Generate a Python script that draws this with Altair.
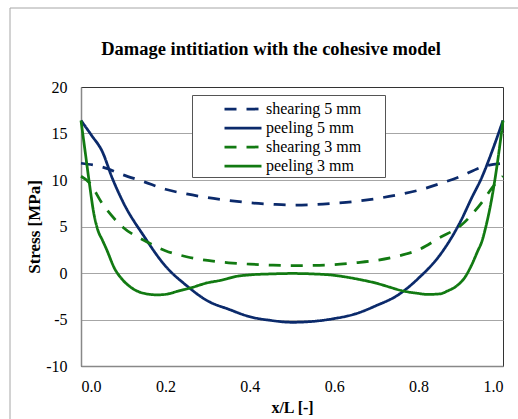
import altair as alt
import pandas as pd

series_order = ["shearing 5 mm", "peeling 5 mm", "shearing 3 mm", "peeling 3 mm"]
series_colors = ["#0b2a6b", "#0b2a6b", "#127a12", "#127a12"]
series_dashes = [[12, 10], [1, 0], [12, 10], [1, 0]]

shear5_x = [0, 0.05, 0.1, 0.15, 0.2, 0.25, 0.3, 0.35, 0.4, 0.45, 0.5, 0.55, 0.6, 0.65, 0.7, 0.75, 0.8, 0.85, 0.9, 0.95, 1.0]
shear5_y = [11.8, 11.4, 10.55, 9.8, 9.0, 8.5, 8.1, 7.8, 7.55, 7.4, 7.3, 7.35, 7.5, 7.7, 8.0, 8.4, 8.9, 9.6, 10.4, 11.4, 11.8]

peel5_x = [0, 0.025, 0.05, 0.075, 0.1, 0.15, 0.2, 0.25, 0.3, 0.35, 0.4, 0.45, 0.5, 0.55, 0.6, 0.65, 0.7, 0.75, 0.8, 0.85, 0.9, 0.925, 0.95, 0.975, 1.0]
peel5_y = [16.4, 14.8, 13.1, 10.1, 7.6, 3.9, 0.75, -1.35, -3.0, -3.9, -4.7, -5.1, -5.3, -5.2, -4.9, -4.4, -3.5, -2.4, -0.55, 1.9, 5.6, 8.0, 10.3, 13.2, 16.4]

shear3_x = [0, 0.02, 0.05, 0.1, 0.15, 0.2, 0.25, 0.3, 0.35, 0.4, 0.45, 0.5, 0.55, 0.6, 0.65, 0.7, 0.75, 0.8, 0.85, 0.9, 0.95, 0.98, 1.0]
shear3_y = [10.4, 9.7, 7.5, 4.9, 3.5, 2.4, 1.75, 1.35, 1.1, 0.95, 0.85, 0.8, 0.82, 0.9, 1.1, 1.35, 1.8, 2.5, 3.8, 5.1, 7.6, 9.5, 10.4]

peel3_x = [0, 0.01, 0.02, 0.03, 0.04, 0.05, 0.06, 0.08, 0.1, 0.12, 0.15, 0.18, 0.2, 0.23, 0.26, 0.3, 0.33, 0.37, 0.4, 0.45, 0.5,
           0.55, 0.6, 0.63, 0.66, 0.7, 0.73, 0.76, 0.8, 0.82, 0.85, 0.87, 0.89, 0.91, 0.925, 0.94, 0.95, 0.96, 0.97, 0.98, 0.99, 1.0]
peel3_y = [16.4, 13.0, 9.6, 6.5, 4.6, 3.6, 2.6, 0.45, -0.8, -1.6, -2.2, -2.35, -2.3, -1.95, -1.6, -1.05, -0.8, -0.35, -0.2, -0.1, -0.05,
           -0.1, -0.25, -0.45, -0.7, -1.1, -1.5, -1.9, -2.2, -2.3, -2.25, -1.9, -1.4, -0.45, 0.8, 2.35, 3.4, 5.1, 7.2, 9.8, 12.9, 16.4]

x_ticks = [0.0, 0.2, 0.4, 0.6, 0.8, 1.0]
y_ticks = [-10, -5, 0, 5, 10, 15, 20]

frames = []
for name, xs, ys in [("shearing 5 mm", shear5_x, shear5_y), ("peeling 5 mm", peel5_x, peel5_y),
                     ("shearing 3 mm", shear3_x, shear3_y), ("peeling 3 mm", peel3_x, peel3_y)]:
    frames.append(pd.DataFrame({"x": xs, "y": ys, "series": name}))
df = pd.concat(frames, ignore_index=True)

FONT = "Liberation Serif"

legend = alt.Legend(
    title="|", titleOrient="right", titlePadding=16, titleFontSize=16, titleColor="transparent",
    orient="none", legendX=111, legendY=8,
    symbolType="M-2,0H2", symbolSize=342, symbolStrokeWidth=2.75,
    labelFont=FONT, labelFontSize=16, labelColor="black",
    strokeColor="#555555", fillColor="white", padding=3,
    symbolOffset=37, labelOffset=12, rowPadding=-0.5,
)

lines = alt.Chart(df).mark_line(strokeWidth=2.75, interpolate="monotone").encode(
    x=alt.X("x:Q", scale=alt.Scale(domain=[0, 1], nice=False),
            axis=alt.Axis(title="x/L [-]", values=x_ticks, format=".1f", grid=False,
                          labelPadding=12, titlePadding=5)),
    y=alt.Y("y:Q", scale=alt.Scale(domain=[-10, 20], nice=False),
            axis=alt.Axis(title="Stress [MPa]", values=y_ticks, grid=True,
                          labelExpr="'' + datum.value",
                          gridOpacity={"condition": {"test": "datum.value === 20 || datum.value === -10", "value": 0}, "value": 1},
                          labelPadding=14, titlePadding=2, titleFontSize=17)),
    color=alt.Color("series:N", scale=alt.Scale(domain=series_order, range=series_colors), legend=legend),
    strokeDash=alt.StrokeDash("series:N", scale=alt.Scale(domain=series_order, range=series_dashes), legend=legend),
)

border = alt.Chart(pd.DataFrame({"a": [0]})).mark_rect(filled=False, stroke="#a6a6a6", strokeWidth=1).encode(
    x=alt.value(-71), y=alt.value(-79), x2=alt.value(700), y2=alt.value(700)
)

chart = alt.layer(border, lines).properties(
    width=422, height=279,
    background="white",
    autosize=alt.AutoSizeParams(type="none"),
    padding={"left": 81, "top": 87, "right": 15, "bottom": 53},
    title=alt.Title("Damage intitiation with the cohesive model", font=FONT, fontSize=18.5,
                    fontWeight="bold", color="black", anchor="middle", frame="group", dx=-21,
                    baseline="alphabetic", offset=-66),
).configure_view(
    stroke="#333333", strokeWidth=1
).configure_axis(
    domainColor="#888888", domainWidth=1.5, ticks=False,
    labelFont=FONT, labelFontSize=16, labelColor="black",
    titleFont=FONT, titleFontSize=16, titleFontWeight="bold", titleColor="black",
    gridColor="#a6a6a6", gridWidth=1,
)

chart.save("out.html", embed_options={"renderer": "svg", "actions": False})
